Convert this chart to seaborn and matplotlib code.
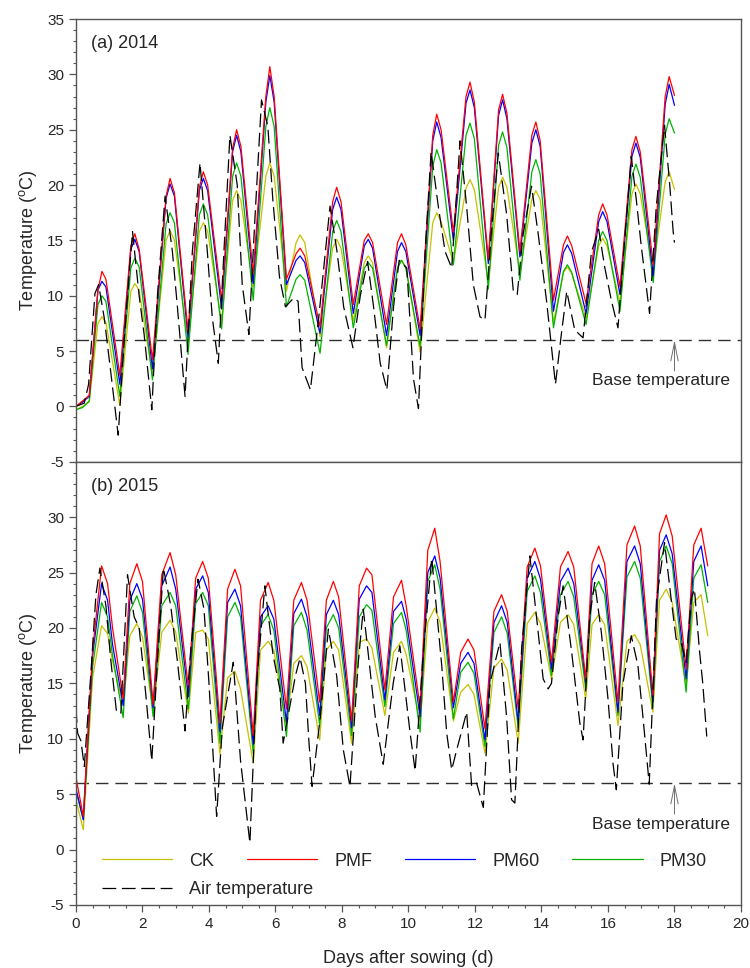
import pandas as pd
import seaborn as sns
import matplotlib.pyplot as plt
from matplotlib.lines import Line2D
from matplotlib.ticker import MultipleLocator

# ---- 2014, soil temperature (trough, end of rise, peak, start of fall) ----
days_2014 = [0.0, 0.2,
             0.4, 0.66, 0.78, 0.9,
             1.32, 1.65, 1.77, 1.9,
             2.3, 2.71, 2.83, 2.96,
             3.37, 3.71, 3.83, 3.96,
             4.38, 4.71, 4.83, 4.96,
             5.33, 5.71, 5.83, 5.96,
             6.33, 6.62, 6.74, 6.88,
             7.34, 7.72, 7.84, 7.97,
             8.34, 8.67, 8.79, 8.92,
             9.34, 9.67, 9.79, 9.92,
             10.35, 10.73, 10.85, 10.98,
             11.35, 11.73, 11.85, 11.98,
             12.4, 12.71, 12.83, 12.96,
             13.35, 13.71, 13.83, 13.96,
             14.36, 14.66, 14.78, 14.91,
             15.34, 15.72, 15.84, 15.97,
             16.36, 16.72, 16.84, 16.97,
             17.36, 17.72, 17.84, 18.0]
ck_2014 = [-0.3, 0.0,
           0.4, 7.5, 8.1, 7.6,
           0.1, 10.4, 11.1, 10.5,
           2.8, 15.0, 15.9, 15.0,
           5.8, 15.8, 16.6, 15.8,
           7.6, 18.6, 19.5, 18.6,
           10.8, 20.8, 22.0, 20.8,
           10.4, 14.8, 15.5, 14.8,
           6.3, 14.3, 15.1, 14.3,
           7.7, 13.0, 13.6, 13.0,
           5.3, 12.6, 13.2, 12.6,
           4.9, 16.6, 17.5, 16.7,
           13.0, 19.7, 20.5, 19.6,
           11.2, 19.8, 20.7, 19.8,
           12.1, 18.7, 19.5, 18.7,
           7.6, 12.1, 12.6, 12.0,
           8.0, 14.5, 15.2, 14.5,
           9.4, 19.2, 20.1, 19.2,
           12.3, 20.3, 21.2, 19.6]
pmf_2014 = [0.0, 0.5,
            1.0, 10.5, 12.2, 11.5,
            2.8, 14.5, 15.6, 14.2,
            4.2, 19.0, 20.6, 19.3,
            6.8, 19.8, 21.2, 20.0,
            9.6, 23.3, 25.0, 23.5,
            12.0, 28.0, 30.7, 28.0,
            11.5, 13.8, 14.3, 13.6,
            7.2, 18.5, 19.8, 18.5,
            9.2, 15.0, 15.6, 14.8,
            7.4, 14.8, 15.6, 14.6,
            7.0, 24.5, 26.4, 25.0,
            15.7, 28.0, 29.3, 27.5,
            13.3, 26.8, 28.2, 26.5,
            14.0, 24.5, 25.7, 24.0,
            9.6, 14.6, 15.4, 14.5,
            9.3, 17.3, 18.3, 17.3,
            10.8, 23.2, 24.4, 23.0,
            12.8, 28.0, 29.8, 28.1]
pm60_2014 = [0.0, 0.4,
             0.9, 10.5, 11.3, 10.8,
             2.0, 14.2, 15.1, 14.0,
             3.4, 18.8, 20.1, 19.0,
             6.2, 19.5, 20.6, 19.5,
             8.8, 23.0, 24.5, 23.0,
             11.1, 27.5, 29.9, 27.5,
             11.0, 13.2, 13.6, 13.0,
             6.6, 17.8, 18.9, 17.8,
             8.4, 14.5, 15.1, 14.3,
             6.4, 14.0, 14.8, 14.0,
             6.4, 24.0, 25.7, 24.3,
             15.0, 27.4, 28.6, 27.0,
             12.9, 26.3, 27.7, 26.0,
             13.5, 23.8, 25.0, 23.5,
             8.6, 13.9, 14.6, 13.8,
             8.4, 16.7, 17.6, 16.7,
             10.1, 22.6, 23.8, 22.5,
             11.8, 27.3, 29.1, 27.2]
pm30_2014 = [-0.3, -0.1,
             0.5, 9.2, 10.0, 9.5,
             0.9, 12.5, 13.4, 12.6,
             2.4, 16.5, 17.5, 16.6,
             4.7, 17.3, 18.3, 17.3,
             7.0, 20.8, 22.0, 20.8,
             9.6, 25.3, 27.0, 25.3,
             9.0, 11.5, 11.9, 11.4,
             4.8, 15.8, 16.8, 15.8,
             7.1, 12.5, 13.0, 12.5,
             5.5, 12.5, 13.2, 12.5,
             5.4, 21.7, 23.2, 22.0,
             12.8, 24.5, 25.6, 24.2,
             10.6, 23.6, 24.8, 23.4,
             11.4, 21.2, 22.3, 21.0,
             7.1, 12.2, 12.8, 12.1,
             7.4, 15.0, 15.8, 15.0,
             8.6, 20.8, 21.9, 20.7,
             11.2, 24.6, 26.0, 24.7]

# ---- 2014, air temperature ----
air_days_2014 = [0.0, 0.25, 0.38, 0.57, 0.68, 0.85, 1.05, 1.27, 1.45, 1.7, 1.9, 2.05, 2.28,
                 2.45, 2.68, 2.9, 3.05, 3.28, 3.5, 3.73, 3.95, 4.1, 4.28, 4.45, 4.63, 4.85,
                 5.0, 5.2, 5.4, 5.58, 5.77, 5.92, 6.12, 6.3, 6.55, 6.68, 6.8, 7.05, 7.3,
                 7.64, 7.85, 8.05, 8.33, 8.55, 8.77, 8.95, 9.15, 9.35, 9.55, 9.72, 9.95,
                 10.15, 10.3, 10.5, 10.68, 10.9, 11.1, 11.3, 11.55, 11.75, 11.95, 12.15,
                 12.3, 12.5, 12.7, 12.95, 13.15, 13.27, 13.45, 13.7, 13.9, 14.15, 14.42,
                 14.6, 14.76, 15.0, 15.25, 15.5, 15.72, 15.9, 16.1, 16.3, 16.5, 16.7, 16.85,
                 17.0, 17.25, 17.45, 17.7, 17.86, 17.96, 18.0]
air_2014 = [0.0, 0.3, 2.0, 10.2, 11.0, 8.0, 3.0, -2.6, 6.0, 15.8, 10.0, 6.5, -0.3, 10.0,
            19.0, 14.0, 9.0, 0.9, 14.0, 22.0, 14.0, 8.0, 3.9, 14.0, 24.5, 20.0, 11.0, 6.5,
            18.0, 27.7, 25.3, 18.7, 11.7, 9.0, 9.8, 9.5, 3.5, 1.5, 8.0, 18.1, 14.0, 9.0,
            5.3, 10.0, 13.1, 9.0, 3.9, 1.5, 9.0, 13.2, 12.5, 2.5, -0.2, 14.0, 23.0, 18.0,
            14.0, 12.5, 24.0, 18.0, 11.0, 8.1, 7.8, 16.0, 22.9, 17.4, 10.5, 10.1, 15.6,
            19.9, 15.6, 9.6, 2.0, 6.6, 10.4, 6.9, 6.2, 13.9, 16.0, 12.6, 9.6, 7.1, 15.0,
            22.6, 18.7, 14.5, 8.4, 18.0, 25.4, 19.9, 15.8, 14.8]

# ---- 2015, soil temperature (trough, end of rise, peak, start of fall) ----
days_2015 = [0.0, 0.22, 0.5, 0.77, 0.95, 1.1,
             1.42, 1.62, 1.83, 2.0,
             2.32, 2.58, 2.83, 3.0,
             3.38, 3.6, 3.81, 3.98,
             4.33, 4.56, 4.78, 4.95,
             5.33, 5.55, 5.78, 5.95,
             6.33, 6.55, 6.78, 6.95,
             7.33, 7.53, 7.74, 7.9,
             8.29, 8.52, 8.74, 8.9,
             9.29, 9.55, 9.79, 9.93,
             10.35, 10.58, 10.79, 10.95,
             11.35, 11.57, 11.79, 11.97,
             12.3, 12.57, 12.8, 12.97,
             13.3, 13.57, 13.8, 13.97,
             14.3, 14.57, 14.8, 14.97,
             15.33, 15.52, 15.72, 15.9,
             16.3, 16.57, 16.8, 16.97,
             17.35, 17.55, 17.75, 17.93,
             18.35, 18.58, 18.8, 19.0]
ck_2015 = [4.5, 1.8, 15.5, 20.2, 19.5, 17.0,
           13.0, 19.3, 20.4, 19.2,
           12.4, 19.6, 20.7, 19.6,
           12.3, 19.6, 19.8, 19.0,
           8.6, 15.5, 16.1, 14.5,
           7.8, 18.0, 18.8, 18.0,
           11.2, 16.8, 17.5, 16.5,
           9.9, 18.0, 18.8, 18.0,
           9.6, 18.7, 19.0, 18.2,
           12.1, 17.8, 18.8, 17.6,
           11.5, 20.5, 21.8, 20.5,
           11.6, 14.2, 14.9, 14.0,
           8.7, 16.4, 17.2, 16.2,
           9.6, 20.4, 21.4, 20.4,
           15.4, 20.5, 21.2, 20.3,
           13.6, 20.3, 21.2, 20.3,
           11.2, 18.8, 19.4, 18.5,
           12.4, 22.5, 23.5, 22.3,
           14.8, 22.3, 23.0, 19.3]
pmf_2015 = [6.5, 3.0, 18.0, 25.6, 24.0, 20.0,
            13.6, 24.0, 25.8, 24.2,
            13.1, 24.8, 26.8, 24.8,
            14.6, 24.5, 26.0, 24.5,
            11.4, 23.5, 25.3, 23.8,
            10.3, 22.5, 24.1, 22.5,
            12.7, 22.5, 24.1, 22.5,
            13.3, 22.5, 24.2, 22.8,
            11.6, 23.8, 25.4, 24.8,
            14.4, 22.8, 24.3, 22.0,
            12.8, 27.0, 29.0, 26.0,
            13.3, 17.8, 19.0, 18.0,
            10.9, 21.5, 23.0, 21.5,
            12.7, 25.5, 27.2, 25.6,
            16.9, 25.5, 26.9, 25.5,
            15.4, 25.8, 27.4, 25.8,
            13.3, 27.5, 29.2, 27.4,
            13.9, 28.5, 30.2, 28.3,
            16.3, 27.5, 29.0, 25.6]
pm60_2015 = [5.5, 2.7, 17.5, 24.0, 22.5, 18.5,
             13.0, 22.5, 24.0, 22.6,
             12.8, 23.8, 25.5, 23.5,
             13.8, 23.5, 24.7, 23.2,
             10.6, 22.3, 23.5, 22.0,
             9.5, 21.0, 22.0, 20.8,
             11.5, 21.3, 22.6, 21.0,
             12.1, 21.2, 22.5, 21.2,
             11.0, 22.6, 23.8, 23.2,
             13.5, 21.5, 22.4, 20.8,
             12.0, 25.0, 26.5, 24.5,
             12.8, 16.8, 17.8, 16.8,
             9.9, 20.5, 22.0, 20.5,
             11.5, 24.5, 26.0, 24.4,
             16.3, 24.2, 25.4, 24.0,
             15.1, 24.3, 25.7, 24.3,
             12.4, 26.0, 27.4, 25.8,
             13.3, 27.0, 28.4, 26.7,
             15.4, 26.0, 27.4, 23.8]
pm30_2015 = [5.3, 2.7, 16.5, 22.3, 21.0, 17.5,
             11.9, 21.5, 22.9, 21.4,
             12.0, 22.0, 23.2, 22.0,
             12.7, 22.2, 23.2, 22.0,
             9.6, 21.0, 22.3, 21.0,
             8.7, 20.2, 21.2, 19.8,
             10.2, 20.2, 21.4, 19.8,
             11.2, 20.0, 21.2, 20.0,
             10.3, 21.0, 22.1, 21.6,
             12.9, 20.4, 21.4, 19.8,
             10.6, 24.2, 25.7, 23.5,
             11.8, 16.0, 16.9, 15.9,
             9.3, 19.6, 21.0, 19.5,
             11.0, 23.3, 24.7, 23.2,
             15.7, 23.0, 24.2, 22.8,
             14.5, 23.0, 24.2, 23.0,
             12.1, 24.6, 26.0, 24.5,
             12.8, 26.0, 27.4, 25.8,
             14.2, 24.5, 25.7, 22.3]

# ---- 2015, air temperature ----
air_days_2015 = [0.0, 0.05, 0.15, 0.25, 0.45, 0.6, 0.72, 0.9, 1.05, 1.22, 1.35, 1.55, 1.75,
                 1.9, 2.1, 2.28, 2.45, 2.63, 2.85, 3.05, 3.28, 3.45, 3.67, 3.85, 4.0, 4.23,
                 4.4, 4.73, 4.95, 5.23, 5.43, 5.68, 5.93, 6.13, 6.23, 6.6, 6.74, 6.9, 7.0,
                 7.1, 7.35, 7.59, 7.84, 8.04, 8.24, 8.49, 8.64, 9.0, 9.24, 9.54, 9.74, 10.05,
                 10.2, 10.45, 10.7, 11.0, 11.15, 11.3, 11.45, 11.75, 11.9, 12.05, 12.25,
                 12.45, 12.75, 12.95, 13.1, 13.2, 13.4, 13.65, 13.85, 14.05, 14.2, 14.3,
                 14.5, 14.65, 14.9, 15.15, 15.25, 15.45, 15.6, 15.8, 16.0, 16.15, 16.25,
                 16.45, 16.7, 16.9, 17.05, 17.24, 17.46, 17.7, 17.9, 18.05, 18.2, 18.35,
                 18.5, 18.6, 18.75, 18.85, 18.97]
air_2015 = [12.7, 10.5, 9.8, 7.5, 16.0, 23.0, 25.4, 22.0, 17.0, 12.4, 12.3, 24.8, 21.0, 20.0,
            14.0, 8.0, 17.0, 25.4, 22.0, 17.0, 10.7, 18.0, 24.4, 21.7, 15.0, 3.0, 11.0, 16.9,
            8.0, 0.6, 15.0, 23.8, 17.5, 14.5, 9.6, 15.7, 17.3, 15.0, 10.0, 5.7, 12.0, 19.9,
            15.7, 9.0, 5.7, 16.9, 21.7, 12.0, 7.7, 15.0, 18.4, 10.5, 7.1, 18.0, 26.3, 16.6,
            10.5, 7.2, 9.0, 12.4, 5.7, 6.0, 3.8, 15.0, 18.7, 12.0, 4.5, 4.2, 18.0, 26.5,
            21.0, 15.4, 14.5, 15.0, 21.0, 23.8, 18.0, 11.5, 9.9, 21.0, 24.1, 19.6, 13.6,
            7.8, 5.4, 15.0, 19.3, 16.6, 12.0, 5.9, 22.6, 27.7, 22.6, 19.0, 18.7, 16.9, 22.6,
            23.5, 18.0, 15.0, 10.2]

base_temp = 6
treatments = ['CK', 'PMF', 'PM60', 'PM30']
colors = {'CK': '#c8c000', 'PMF': '#ff0000', 'PM60': '#0000ff', 'PM30': '#00b400'}
draw_order = ['CK', 'PM30', 'PM60', 'PMF']
air_dash = (0, (11, 4.5))


def soil_frame(days, series):
    parts = []
    for name, vals in zip(treatments, series):
        parts.append(pd.DataFrame({'day': days, 'temp': vals, 'treatment': name}))
    return pd.concat(parts, ignore_index=True)


sns.set_theme(style='ticks')
plt.rcParams['font.family'] = ['Liberation Sans', 'DejaVu Sans']
plt.rcParams['mathtext.fontset'] = 'custom'
plt.rcParams['mathtext.rm'] = 'Liberation Sans'
plt.rcParams['axes.unicode_minus'] = False

fig = plt.figure(figsize=(7.5, 9.68), dpi=100)
ax_top = fig.add_axes([0.1013, 0.523, 0.8867, 0.4573])
ax_bot = fig.add_axes([0.1013, 0.0651, 0.8867, 0.4579])

panels = [
    (ax_top, soil_frame(days_2014, [ck_2014, pmf_2014, pm60_2014, pm30_2014]),
     air_days_2014, air_2014, '(a) 2014'),
    (ax_bot, soil_frame(days_2015, [ck_2015, pmf_2015, pm60_2015, pm30_2015]),
     air_days_2015, air_2015, '(b) 2015'),
]

for ax, df, air_x, air_y, tag in panels:
    sns.lineplot(data=df, x='day', y='temp', hue='treatment', hue_order=draw_order,
                 palette=colors, estimator=None, lw=0.9, legend=False, ax=ax)
    sns.lineplot(x=air_x, y=air_y, color='black', lw=0.9, linestyle=air_dash,
                 estimator=None, ax=ax)
    ax.axhline(base_temp, color='#303030', lw=1.0, linestyle=(0, (9, 5)), zorder=1)
    ax.annotate('', xy=(18, base_temp), xytext=(18, 3.2),
                arrowprops=dict(arrowstyle='->,head_length=1.1,head_width=0.22',
                                color='#707070', lw=0.7, shrinkA=0, shrinkB=0))
    ax.text(17.6, 2.3, 'Base temperature', ha='center', va='center', fontsize=12.5)
    ax.text(0.023, 0.945, tag, transform=ax.transAxes, ha='left', va='center', fontsize=13)

    ax.set_xlim(0, 20)
    ax.set_ylim(-5, 35)
    ax.yaxis.set_minor_locator(MultipleLocator(1))
    ax.set_ylabel('Temperature ($^{\\rm o}$C)', fontsize=13, labelpad=6)
    ax.set_xlabel('')
    for side in ['top', 'right', 'bottom', 'left']:
        ax.spines[side].set_visible(True)
        ax.spines[side].set_color('#555555')
        ax.spines[side].set_linewidth(1.0)
    ax.tick_params(axis='y', which='major', direction='out', length=5, width=0.9,
                   color='#555555', labelsize=11, right=False)
    ax.tick_params(axis='y', which='minor', direction='out', length=2.5, width=0.8,
                   color='#555555', right=False)

ax_top.set_yticks(range(-5, 36, 5))
ax_top.tick_params(axis='x', which='both', bottom=False, labelbottom=False, top=False)

ax_bot.set_yticks(range(-5, 31, 5))
ax_bot.set_xticks(range(0, 21, 2))
ax_bot.xaxis.set_minor_locator(MultipleLocator(0.5))
ax_bot.tick_params(axis='x', which='major', direction='out', length=5, width=0.9,
                   color='#555555', labelsize=11, top=False)
ax_bot.tick_params(axis='x', which='minor', direction='out', length=2.5, width=0.8,
                   color='#555555', top=False)
ax_bot.set_xlabel('Days after sowing (d)', fontsize=13, labelpad=14)

# legend: four treatments in one row, air temperature below
soil_handles = [Line2D([], [], color=colors[t], lw=0.9) for t in treatments]
leg1 = ax_bot.legend(soil_handles, treatments, ncol=4, loc='center left',
                     bbox_to_anchor=(0.039, 0.099), frameon=False, fontsize=13,
                     handlelength=3.9, handletextpad=0.95, columnspacing=1.8,
                     borderpad=0, borderaxespad=0)
ax_bot.add_artist(leg1)
air_handle = Line2D([], [], color='black', lw=0.9, linestyle=air_dash)
ax_bot.legend([air_handle], ['Air temperature'], loc='center left',
              bbox_to_anchor=(0.039, 0.035), frameon=False, fontsize=13,
              handlelength=3.9, handletextpad=0.95, borderpad=0, borderaxespad=0)

fig.savefig('out.png', dpi=100)
